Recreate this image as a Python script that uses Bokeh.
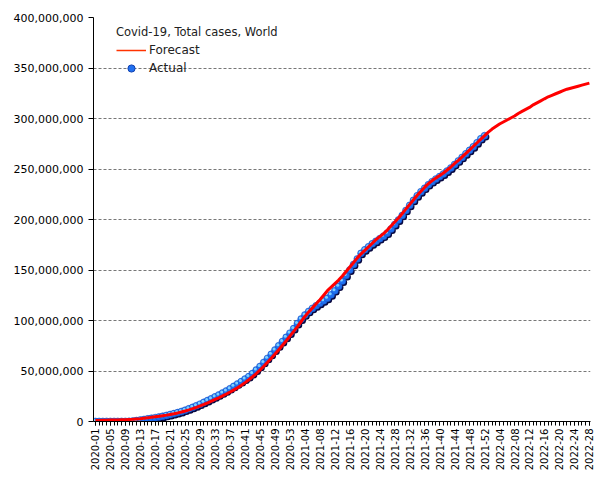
from bokeh.plotting import figure
from bokeh.models import (ColumnDataSource, FixedTicker, NumeralTickFormatter, Legend,
                          LegendItem, Range1d)
from bokeh.transform import dodge
from bokeh.embed import file_html
from bokeh.resources import INLINE
import math

# ---- data (millions of cumulative cases), one value per ISO week from 2020-01 ----
tick_labels = [
    "2020-01", "2020-05", "2020-09", "2020-13", "2020-17", "2020-21", "2020-25", "2020-29",
    "2020-33", "2020-37", "2020-41", "2020-45", "2020-49", "2020-53", "2021-04", "2021-08",
    "2021-12", "2021-16", "2021-20", "2021-24", "2021-28", "2021-32", "2021-36", "2021-40",
    "2021-44", "2021-48", "2021-52", "2022-04", "2022-08", "2022-12", "2022-16", "2022-20",
    "2022-24", "2022-28",
]
n_weeks = 133

actual_m = [
    0.01, 0.02, 0.04, 0.06, 0.07, 0.08, 0.09, 0.1, 0.11, 0.15,
    0.4, 0.9, 1.4, 2.0, 2.6, 3.2, 3.8, 4.5, 5.2, 6.0,
    6.9, 7.8, 8.8, 9.9, 11.2, 12.6, 14.0, 15.6, 17.2, 19.0,
    20.8, 22.6, 24.4, 26.3, 28.3, 30.3, 32.5, 34.8, 37.2, 39.5,
    42.0, 44.5, 47.5, 51.0, 54.5, 58.5, 62.5, 66.5, 70.8, 75.0,
    79.2, 83.4, 87.5, 92.0, 97.0, 101.5, 105.5, 109.0, 112.0, 114.5,
    117.0, 119.5, 122.0, 125.5, 129.5, 134.0, 139.0, 144.5, 150.0, 155.5,
    161.0, 166.5, 170.0, 173.0, 176.0, 178.5, 181.0, 183.5, 186.5, 190.5,
    195.0, 199.5, 204.0, 209.0, 214.0, 219.0, 223.5, 227.5, 231.0, 234.5,
    237.5, 240.0, 242.5, 245.0, 248.0, 251.0, 254.5, 258.0, 261.5, 265.0,
    268.5, 272.0, 276.0, 280.0, 283.0,
]

forecast_m = [
    1.0, 1.1, 1.2, 1.3, 1.4, 1.5, 1.6, 1.7, 1.8, 2.0,
    2.2, 2.5, 2.8, 3.2, 3.6, 4.1, 4.6, 5.1, 5.7, 6.3,
    7.0, 7.7, 8.5, 9.4, 10.4, 11.5, 12.7, 14.0, 15.4, 16.9,
    18.5, 20.1, 21.8, 23.5, 25.3, 27.2, 29.2, 31.3, 33.5, 35.9,
    38.5, 41.3, 44.3, 47.5, 51.0, 54.7, 58.6, 62.6, 66.8, 71.1,
    75.5, 79.9, 84.5, 89.2, 94.0, 99.0, 104.0, 108.5, 112.5, 116.5,
    120.5, 125.0, 129.5, 133.0, 136.5, 140.0, 144.0, 148.5, 153.0, 157.5,
    162.0, 166.0, 169.5, 173.0, 176.5, 180.0, 183.0, 186.0, 189.5, 193.5,
    197.5, 201.5, 206.0, 210.5, 215.0, 219.5, 224.0, 228.0, 232.0, 235.5,
    238.5, 241.0, 243.5, 246.0, 249.0, 252.0, 255.5, 258.5, 262.0, 265.5,
    269.0, 272.5, 276.0, 279.5, 283.0, 286.5, 289.5, 292.0, 294.5, 296.5,
    298.5, 300.5, 302.5, 305.0, 307.0, 309.0, 311.0, 313.5, 315.5, 317.5,
    319.5, 321.5, 323.0, 324.5, 326.0, 327.5, 329.0, 330.0, 331.0, 332.0,
    333.0, 334.0, 335.0,
]

actual_src = ColumnDataSource(dict(x=list(range(len(actual_m))),
                                   y=[v * 1e6 for v in actual_m]))
forecast_src = ColumnDataSource(dict(x=list(range(len(forecast_m))),
                                     y=[v * 1e6 for v in forecast_m]))

FONT = "DejaVu Sans"

p = figure(width=598, height=473, output_backend="svg", toolbar_location=None,
           x_range=Range1d(-0.5, 132.3), y_range=Range1d(0, 400e6),
           min_border_left=93, min_border_right=8, min_border_top=17, min_border_bottom=52)
p.outline_line_color = None
p.background_fill_color = "white"
p.border_fill_color = "white"

# axes
p.yaxis.ticker = FixedTicker(ticks=[i * 50e6 for i in range(9)])
p.yaxis.formatter = NumeralTickFormatter(format="0,0")
p.yaxis.major_label_text_font = FONT
p.yaxis.major_label_text_font_size = "11px"
p.yaxis.major_label_text_color = "black"
p.yaxis.axis_line_color = "black"
p.yaxis.major_tick_line_color = "black"
p.yaxis.major_tick_out = 5
p.yaxis.major_tick_in = 0
p.yaxis.minor_tick_line_color = None
p.yaxis.major_label_standoff = 5

p.xaxis.ticker = FixedTicker(ticks=list(range(0, n_weeks, 4)), minor_ticks=list(range(n_weeks)))
p.xaxis.major_label_overrides = {i * 4: lab for i, lab in enumerate(tick_labels)}
p.xaxis.major_label_orientation = math.pi / 2
p.xaxis.major_label_text_font = FONT
p.xaxis.major_label_text_font_size = "10px"
p.xaxis.major_label_text_color = "black"
p.xaxis.axis_line_color = "black"
p.xaxis.major_tick_line_color = "black"
p.xaxis.minor_tick_line_color = "black"
p.xaxis.major_tick_out = 4
p.xaxis.minor_tick_out = 4
p.xaxis.major_tick_in = 0
p.xaxis.minor_tick_in = 0
p.xaxis.major_label_standoff = 3

p.xgrid.grid_line_color = None
p.ygrid.grid_line_color = "#777777"
p.ygrid.grid_line_dash = "3 2"
p.ygrid.grid_line_width = 1

# actual markers: shadow, ball, highlight
shadow = p.scatter(x=dodge("x", 0.35, range=p.x_range), y=dodge("y", -1.4e6, range=p.y_range),
                   source=actual_src, size=7, fill_color="#080840", line_color=None)
ball = p.scatter(x="x", y="y", source=actual_src, size=7, fill_color="#2070f0",
                 line_color="#1850c0", line_width=0.5)
hl = p.scatter(x=dodge("x", -0.25, range=p.x_range), y=dodge("y", 1.0e6, range=p.y_range),
               source=actual_src, size=3, fill_color="#7fd0ff", line_color=None)

# forecast line
fline = p.line(x="x", y="y", source=forecast_src, line_color="#ff0000", line_width=3)

# legend-only samples (nothing drawn in the plot area)
legend_line = p.line(x=[float("nan")], y=[float("nan")], line_color="#ff3300", line_width=1.5)
legend_ball = p.scatter(x=[float("nan")], y=[float("nan")], size=8, fill_color="#2070f0",
                        line_color="#1040b0", line_width=1)

legend = Legend(
    items=[LegendItem(label="Forecast", renderers=[legend_line]),
           LegendItem(label="Actual", renderers=[legend_ball])],
    title="Covid-19, Total cases, World",
    location=(23, 344),
    title_text_font=FONT, title_text_font_size="11.5px", title_text_font_style="normal",
    title_text_color="#222222", title_standoff=2,
    label_text_font=FONT, label_text_font_size="12px", label_text_color="#222222",
    glyph_width=30, glyph_height=18, label_height=18, label_standoff=3,
    spacing=0, padding=4, margin=0,
    background_fill_alpha=0, border_line_color=None,
)
p.add_layout(legend)

open("out.html", "w").write(file_html(p, INLINE))
